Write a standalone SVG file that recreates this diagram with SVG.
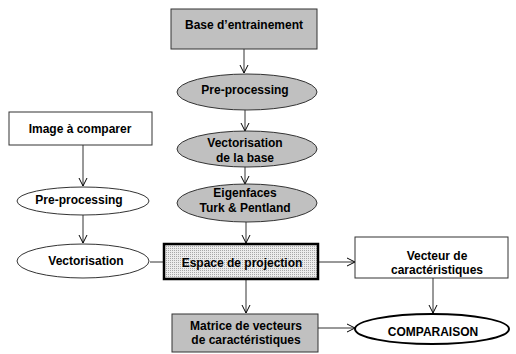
<svg xmlns="http://www.w3.org/2000/svg" width="516" height="354" viewBox="0 0 516 354">
<defs>
<pattern id="dots" width="2" height="2" patternUnits="userSpaceOnUse">
<rect width="2" height="2" fill="#ececec"/>
<rect width="1" height="1" fill="#a8a8a8"/>
</pattern>
<marker id="arr" viewBox="0 0 10 10" refX="9" refY="5" markerWidth="10" markerHeight="10" markerUnits="userSpaceOnUse" orient="auto">
<path d="M1,1 L9,5 L1,9" fill="none" stroke="#000" stroke-width="1"/>
</marker>
</defs>
<style>
text{font-family:"Liberation Sans",Arial,sans-serif;font-weight:bold;font-size:12px;text-anchor:middle;fill:#000}
.g{fill:#c0c0c0;stroke:#333;stroke-width:1}
.w{fill:#fff;stroke:#333;stroke-width:1}
.c line{stroke:#333;stroke-width:1}
.c line.a{marker-end:url(#arr)}
</style>
<g class="c" id="connectors">
<line class="a" x1="244" y1="49" x2="244" y2="73"/>
<line class="a" x1="245" y1="110" x2="245" y2="131"/>
<line class="a" x1="245" y1="167" x2="245" y2="184"/>
<line class="a" x1="246" y1="222" x2="246" y2="243"/>
<line class="a" x1="83" y1="145" x2="83" y2="186"/>
<line class="a" x1="83" y1="215" x2="83" y2="243"/>
<line x1="150" y1="262" x2="164" y2="262"/>
<line class="a" x1="318" y1="262" x2="355" y2="262"/>
<line class="a" x1="433" y1="278" x2="433" y2="313"/>
<line class="a" x1="246" y1="279" x2="246" y2="313"/>
<line class="a" x1="318" y1="328" x2="355" y2="328"/>
</g>
<g id="base">
<rect class="g" x="171" y="9" width="146" height="40"/>
<text x="244" y="29">Base d’entrainement</text>
</g>
<g id="preproc1">
<ellipse class="g" cx="247" cy="92" rx="70" ry="18"/>
<text x="245" y="94">Pre-processing</text>
</g>
<g id="vectbase">
<ellipse class="g" cx="247" cy="149" rx="70" ry="18"/>
<text x="245" y="147">Vectorisation</text>
<text x="245" y="162">de la base</text>
</g>
<g id="eigen">
<ellipse class="g" cx="247" cy="203" rx="70" ry="19"/>
<text x="245" y="197">Eigenfaces</text>
<text x="245" y="212">Turk &amp; Pentland</text>
</g>
<g id="image">
<rect class="w" x="9" y="112" width="143" height="33"/>
<text x="80" y="133">Image à comparer</text>
</g>
<g id="preproc2">
<ellipse class="w" cx="83" cy="201" rx="66" ry="14"/>
<text x="79" y="204">Pre-processing</text>
</g>
<g id="vect">
<ellipse class="w" cx="83" cy="261" rx="66" ry="17"/>
<text x="86" y="265">Vectorisation</text>
</g>
<g id="espace">
<rect x="164" y="244" width="154" height="35" fill="url(#dots)" stroke="#000" stroke-width="2.5"/>
<text x="242" y="267">Espace de projection</text>
</g>
<g id="vecteur">
<rect class="w" x="355" y="237" width="153" height="41"/>
<text x="437" y="260">Vecteur de</text>
<text x="437" y="274">caractéristiques</text>
</g>
<g id="matrice">
<rect class="g" x="172" y="314" width="146" height="38"/>
<text x="246" y="330">Matrice de vecteurs</text>
<text x="246" y="344">de caractéristiques</text>
</g>
<g id="comparaison">
<ellipse cx="432" cy="329" rx="77" ry="15" fill="#fff" stroke="#000" stroke-width="2"/>
<text x="433" y="336">COMPARAISON</text>
</g>
</svg>
